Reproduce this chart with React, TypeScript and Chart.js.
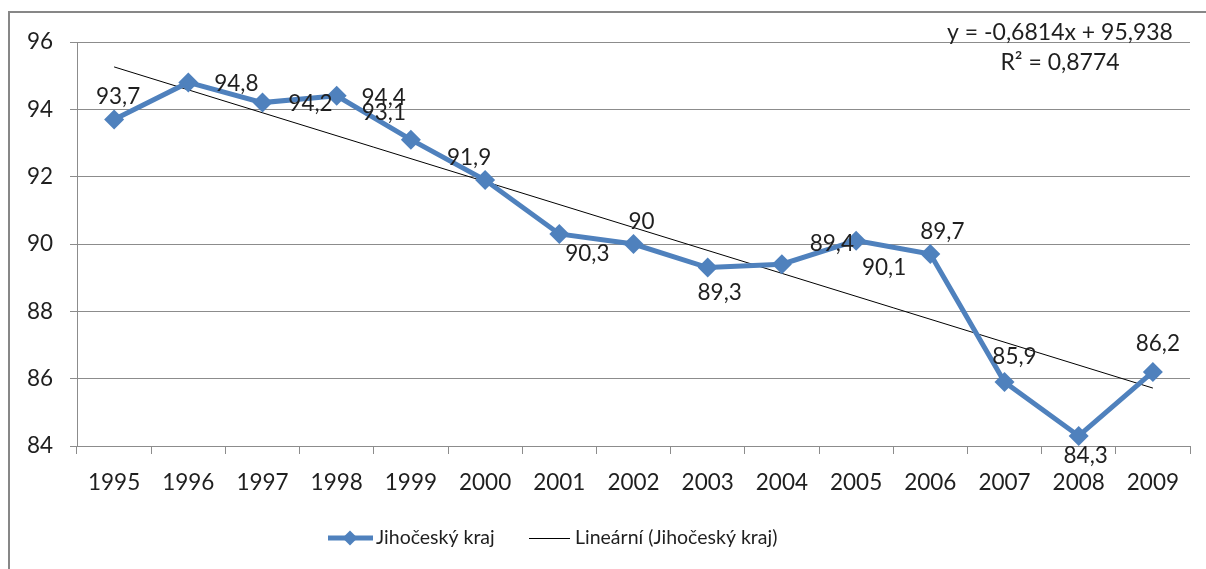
import React, { useEffect, useRef } from "react";
import { Chart, registerables } from "chart.js";

Chart.register(...registerables);

const years = ["1995", "1996", "1997", "1998", "1999", "2000", "2001", "2002", "2003", "2004", "2005", "2006", "2007", "2008", "2009"];
const values = [93.7, 94.8, 94.2, 94.4, 93.1, 91.9, 90.3, 90.0, 89.3, 89.4, 90.1, 89.7, 85.9, 84.3, 86.2];
const dataLabels = ["93,7", "94,8", "94,2", "94,4", "93,1", "91,9", "90,3", "90", "89,3", "89,4", "90,1", "89,7", "85,9", "84,3", "86,2"];
// trend line endpoints, gaps in between
const trendValues = [95.26, null, null, null, null, null, null, null, null, null, null, null, null, null, 85.72];
const yTicks = [84, 86, 88, 90, 92, 94, 96];
const seriesName = "Jihočeský kraj";
const trendName = "Lineární (Jihočeský kraj)";
const equationText = "y = -0,6814x + 95,938";
const r2Text = "R² = 0,8774";

// label offsets relative to the point (style, px)
const labelOffsets: [number, number][] = [
  [4, -23], [48, 1], [48, 1], [47, 2], [-27, -27], [-16, -22], [28, 20], [8, -22],
  [12, 25], [50, -20], [28, 27], [12, -22], [10, -25], [7, 20], [5, -28],
];

const FONT = "Lato, 'Open Sans', sans-serif";
const BLUE = "#4F81BD";
const GRID = "#8C8C8C";
const TEXT = "#1F1F1F";

function drawDiamond(ctx: CanvasRenderingContext2D, x: number, y: number, r: number) {
  ctx.beginPath();
  ctx.moveTo(x, y - r);
  ctx.lineTo(x + r, y);
  ctx.lineTo(x, y + r);
  ctx.lineTo(x - r, y);
  ctx.closePath();
  ctx.fill();
}

const extrasPlugin = {
  id: "extras",
  beforeDraw(chart: any) {
    const ctx = chart.ctx as CanvasRenderingContext2D;
    ctx.save();
    ctx.fillStyle = "#ffffff";
    ctx.fillRect(0, 0, chart.width, chart.height);
    ctx.strokeStyle = "#878787";
    ctx.lineWidth = 2;
    ctx.beginPath();
    ctx.moveTo(9, chart.height + 5);
    ctx.lineTo(9, 12);
    ctx.lineTo(chart.width + 5, 12);
    ctx.stroke();
    ctx.restore();
  },
  afterDatasetsDraw(chart: any) {
    const ctx = chart.ctx as CanvasRenderingContext2D;
    const meta = chart.getDatasetMeta(0);
    ctx.save();
    ctx.font = `22.5px ${FONT}`;
    ctx.fillStyle = TEXT;
    ctx.textAlign = "center";
    ctx.textBaseline = "middle";
    meta.data.forEach((p: any, i: number) => {
      const [dx, dy] = labelOffsets[i];
      ctx.fillText(dataLabels[i], p.x + dx, p.y + dy);
    });
    // equation
    ctx.font = `23px ${FONT}`;
    ctx.fillText(equationText, 1060, 33);
    ctx.fillText(r2Text, 1060, 63);
    // legend
    ctx.font = `19.5px ${FONT}`;
    const ly = 538;
    ctx.strokeStyle = BLUE;
    ctx.lineWidth = 5;
    ctx.beginPath();
    ctx.moveTo(328, ly);
    ctx.lineTo(373, ly);
    ctx.stroke();
    ctx.fillStyle = BLUE;
    drawDiamond(ctx, 350, ly, 7.5);
    ctx.fillStyle = TEXT;
    ctx.textAlign = "left";
    ctx.fillText(seriesName, 376, ly);
    ctx.strokeStyle = "#000000";
    ctx.lineWidth = 1;
    ctx.beginPath();
    ctx.moveTo(529, ly + 0.5);
    ctx.lineTo(570, ly + 0.5);
    ctx.stroke();
    ctx.fillText(trendName, 575, ly);
    ctx.restore();
  },
};

export default function App() {
  const ref = useRef<HTMLCanvasElement | null>(null);
  useEffect(() => {
    if (!ref.current) return;
    const chart = new Chart(ref.current, {
      type: "line",
      data: {
        labels: years,
        datasets: [
          {
            label: seriesName,
            data: values,
            borderColor: BLUE,
            backgroundColor: BLUE,
            borderWidth: 5,
            pointStyle: "rectRot",
            pointRadius: 10,
            pointHoverRadius: 10,
            pointBackgroundColor: BLUE,
            pointBorderWidth: 0,
            tension: 0,
          },
          {
            label: trendName,
            data: trendValues,
            borderColor: "#000000",
            borderWidth: 1,
            pointRadius: 0,
            spanGaps: true,
            tension: 0,
          },
        ],
      },
      options: {
        animation: false,
        responsive: false,
        maintainAspectRatio: false,
        layout: { padding: { left: 0, right: 16, top: 42, bottom: 0 } },
        plugins: {
          legend: { display: false },
          tooltip: { enabled: false },
        },
        scales: {
          x: {
            type: "category",
            offset: true,
            grid: {
              offset: true,
              drawOnChartArea: false,
              drawTicks: true,
              tickLength: 8,
              color: GRID,
            },
            border: { color: GRID, width: 1 },
            ticks: {
              color: TEXT,
              font: { family: FONT, size: 22.5 },
              padding: 15,
              maxRotation: 0,
              autoSkip: false,
            },
            afterFit(scale: any) {
              scale.height = 123;
            },
          },
          y: {
            min: 84,
            max: 96,
            afterBuildTicks(scale: any) {
              scale.ticks = yTicks.map((v) => ({ value: v }));
            },
            grid: {
              color: GRID,
              tickLength: 7,
              lineWidth: 1,
            },
            border: { color: GRID, width: 1 },
            ticks: {
              color: TEXT,
              font: { family: FONT, size: 22.5 },
              padding: 17,
            },
            afterFit(scale: any) {
              scale.width = 77;
            },
          },
        },
      },
      plugins: [extrasPlugin],
    });
    return () => chart.destroy();
  }, []);
  return (
    <div style={{ position: "fixed", left: 0, top: 0, width: 1206, height: 569 }}>
      <canvas ref={ref} width={1206} height={569} style={{ width: 1206, height: 569, display: "block" }} />
    </div>
  );
}
